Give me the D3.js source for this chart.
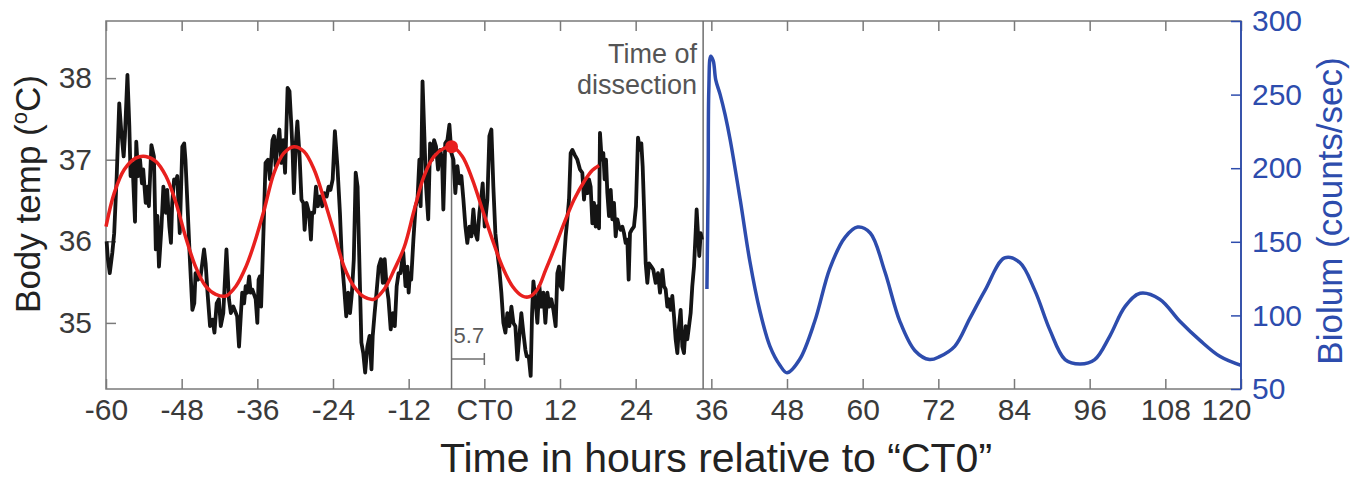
<!DOCTYPE html>
<html><head><meta charset="utf-8">
<script src="https://cdn.jsdelivr.net/npm/d3@7"></script>
<style>
body{margin:0;background:#fff}
svg{display:block}
text{font-family:"Liberation Sans",Arial,Helvetica,sans-serif}
</style>
</head><body>
<svg id="chart" width="1366" height="487"></svg>
<script>
// ---------------- data ----------------
const xTicks = [-60,-48,-36,-24,-12,0,12,24,36,48,60,72,84,96,108,120];
const xTickLabels = ["-60","-48","-36","-24","-12","CT0","12","24","36","48","60","72","84","96","108","120"];
const tempTicks = [35,36,37,38];
const biolumTicks = [50,100,150,200,250,300];

// body temperature [hour, °C]
const bodyTemp = [
[-59.9,36.0],[-59.7,35.78],[-59.4,35.61],[-59.0,35.86],[-58.7,36.1],[-58.3,36.8],[-57.9,37.69],[-57.6,37.37],[-57.2,37.04],[-57.0,37.29],
[-56.6,38.04],[-56.3,37.41],[-56.1,36.8],[-55.8,36.96],[-55.4,36.24],[-55.2,37.22],[-54.9,36.8],[-54.6,37.0],[-54.3,36.71],[-54.1,36.88],
[-53.7,36.47],[-53.4,36.67],[-53.2,36.43],[-52.8,37.18],[-52.4,37.04],[-52.1,35.9],[-51.85,36.31],[-51.6,35.69],[-51.2,36.18],[-50.9,36.67],
[-50.5,36.35],[-50.3,36.63],[-49.95,36.18],[-49.7,35.98],[-49.5,36.47],[-49.2,36.76],[-48.95,36.71],[-48.7,36.8],[-48.3,36.1],[-47.9,37.16],
[-47.6,37.2],[-47.4,37.0],[-47.0,36.31],[-46.7,35.78],[-46.3,35.16],[-46.0,35.24],[-45.8,35.61],[-45.4,35.53],[-45.0,35.57],[-44.45,35.9],
[-44.2,35.73],[-43.9,35.37],[-43.5,34.96],[-43.1,35.04],[-42.8,34.88],[-42.45,35.24],[-42.1,35.29],[-41.8,34.96],[-41.4,35.12],[-40.9,35.9],
[-40.5,35.29],[-40.2,35.12],[-39.8,35.2],[-39.4,35.12],[-39.2,35.08],[-38.9,34.71],[-38.6,35.12],[-38.4,35.37],[-38.1,35.24],[-37.85,35.45],
[-37.6,35.37],[-37.3,35.57],[-37.05,35.37],[-36.8,35.41],[-36.26,35.29],[-36.0,35.0],[-35.8,35.53],[-35.6,35.57],[-35.4,35.2],[-35.0,36.18],
[-34.7,36.96],[-34.3,37.0],[-34.0,36.76],[-33.6,37.24],[-33.35,37.29],[-33.1,36.92],[-32.8,37.2],[-32.5,37.37],[-32.2,36.96],[-31.9,37.24],
[-31.6,36.84],[-31.2,37.88],[-30.9,37.84],[-30.6,37.41],[-30.4,37.08],[-30.2,36.59],[-29.9,37.2],[-29.65,37.47],[-29.3,37.04],[-29.0,36.51],
[-28.7,36.47],[-28.5,36.14],[-28.2,36.47],[-27.8,36.35],[-27.5,36.02],[-27.3,36.35],[-27.0,36.35],[-26.7,36.67],[-26.4,36.43],[-26.05,36.55],
[-25.7,36.43],[-25.4,36.59],[-25.0,36.55],[-24.7,36.67],[-24.4,36.63],[-24.05,36.76],[-23.7,37.35],[-23.3,36.92],[-22.9,36.35],[-22.6,35.78],
[-22.25,35.45],[-21.9,35.08],[-21.6,35.37],[-21.3,35.12],[-21.0,35.37],[-20.7,35.78],[-20.4,36.84],[-20.1,36.67],[-19.8,35.69],[-19.5,34.76],
[-19.2,34.63],[-18.9,34.39],[-18.55,34.71],[-18.2,34.84],[-17.9,34.43],[-17.7,34.84],[-17.4,35.12],[-17.1,35.37],[-16.75,35.69],[-16.4,35.78],
[-16.1,35.49],[-15.8,35.78],[-15.5,35.45],[-15.2,35.29],[-14.85,34.92],[-14.5,35.12],[-14.2,34.96],[-13.9,35.45],[-13.6,35.61],[-13.3,35.61],
[-12.85,35.86],[-12.5,35.45],[-12.2,35.69],[-12.0,35.37],[-11.8,35.61],[-11.6,35.53],[-11.25,36.02],[-10.9,36.43],[-10.6,36.51],[-10.3,37.0],
[-10.1,36.43],[-9.8,37.96],[-9.56,37.41],[-9.24,36.67],[-8.9,36.27],[-8.6,37.2],[-8.3,37.0],[-7.97,37.24],[-7.66,37.16],[-7.34,36.88],
[-7.0,37.12],[-6.7,37.0],[-6.5,36.39],[-6.2,37.2],[-5.86,37.24],[-5.54,37.43],[-5.22,37.08],[-4.9,37.0],[-4.6,36.59],[-4.27,36.92],
[-3.96,36.71],[-3.64,36.8],[-3.32,36.51],[-3.0,36.18],[-2.7,35.98],[-2.37,36.18],[-2.05,36.06],[-1.74,36.39],[-1.42,36.1],[-1.1,36.02],
[-0.78,36.35],[-0.47,36.55],[-0.26,36.71],[0.06,36.18],[0.48,36.51],[0.8,37.29],[1.12,37.37],[1.43,36.67],[1.75,36.1],[2.07,35.86],
[2.39,35.65],[2.7,35.37],[3.02,35.0],[3.34,34.88],[3.65,35.12],[3.97,34.96],[4.29,35.2],[4.61,35.0],[4.92,34.96],[5.24,34.55],
[5.56,34.84],[5.87,35.12],[6.19,34.88],[6.51,34.67],[6.72,34.59],[7.04,34.59],[7.35,34.35],[7.57,35.12],[7.78,35.51],[8.09,35.29],
[8.41,35.0],[8.73,35.45],[9.05,35.2],[9.36,35.37],[9.68,35.0],[10.0,35.37],[10.31,35.2],[10.63,35.29],[10.95,35.16],[11.31,34.96],
[11.58,35.61],[11.84,35.69],[12.11,35.45],[12.37,35.41],[12.64,35.78],[12.9,36.06],[13.16,36.27],[13.43,36.51],[13.69,37.08],[13.96,37.12],
[14.33,37.06],[14.75,37.0],[15.17,36.88],[15.54,36.84],[15.81,36.51],[16.07,36.76],[16.34,36.59],[16.6,36.76],[16.86,36.67],[17.13,36.22],
[17.39,36.47],[17.66,36.18],[17.92,36.43],[18.19,36.16],[18.34,37.33],[18.61,37.0],[18.87,37.08],[19.08,36.76],[19.3,37.0],[19.51,36.59],
[19.77,36.31],[20.04,36.63],[20.3,36.27],[20.56,36.47],[20.83,36.06],[21.09,36.27],[21.36,36.18],[21.62,36.14],[21.89,36.18],[22.15,36.1],
[22.41,35.98],[22.68,36.02],[22.89,35.53],[23.1,36.1],[23.36,36.14],[23.73,36.18],[24.05,36.43],[24.37,37.27],[24.69,37.12],[24.9,37.2],
[25.11,36.92],[25.32,36.43],[25.59,35.73],[25.85,35.49],[26.11,35.73],[26.48,35.69],[26.8,35.65],[27.17,35.49],[27.54,35.61],[27.86,35.37],
[28.23,35.65],[28.49,35.45],[28.76,35.41],[29.02,35.2],[29.28,35.29],[29.55,35.16],[29.81,35.33],[30.08,35.08],[30.34,34.8],[30.61,34.63],
[30.87,34.96],[31.13,35.16],[31.4,34.71],[31.66,34.63],[31.93,34.96],[32.19,34.8],[32.46,34.96],[32.72,35.12],[32.98,35.45],[33.25,35.69],
[33.51,36.1],[33.67,36.39],[33.88,36.1],[34.09,35.82],[34.31,36.1],[34.52,36.02]
];

// fitted rhythm [hour, °C]
const tempFit = [
[-60,36.18],[-58.7,36.59],[-57.1,36.88],[-55.3,37.02],[-53.7,37.04],[-52.1,36.98],[-50.5,36.80],[-48.9,36.47],[-47.4,36.06],[-45.8,35.69],
[-44.2,35.45],[-42.6,35.35],[-41.0,35.33],[-39.4,35.45],[-37.8,35.69],[-36.5,35.97],[-34.9,36.39],[-33.35,36.84],[-31.8,37.08],[-30.2,37.16],
[-28.6,37.10],[-27.0,36.88],[-25.4,36.51],[-23.8,36.10],[-22.25,35.69],[-20.7,35.45],[-19.1,35.32],[-17.5,35.29],[-15.9,35.41],[-14.3,35.65],
[-12.7,35.93],[-11.1,36.39],[-9.56,36.80],[-7.97,37.04],[-6.4,37.14],[-5.1,37.16],[-3.48,37.04],[-1.9,36.76],[-0.31,36.39],[1.28,36.02],
[2.86,35.69],[4.45,35.45],[6.03,35.33],[7.09,35.32],[8.41,35.41],[9.73,35.65],[11.05,35.90],[12.64,36.22],[14.22,36.51],[15.81,36.73],
[17.13,36.87],[18.19,36.93]
];

// bioluminescence [hour, counts/sec]
const biolum = [
[35.3,118],[35.5,192],[35.6,253],[35.9,276],[36.3,273],[36.7,260],[37.4,250],[38.2,236],[39.0,219],[40.6,178],
[42.1,137],[43.7,103],[45.3,79],[46.9,66],[48.0,61],[50.0,70],[52.4,96],[54.8,132],[57.2,153],[59.2,160],
[61.2,156],[63.5,130],[65.9,96],[68.3,76],[70.6,70],[72.2,72],[74.6,79],[77.0,98],[79.4,117],[82.5,139],
[84.9,136],[87.3,117],[89.7,90],[92.1,70],[94.5,67],[96.8,70],[99.2,86],[101.6,106],[104.0,115],[107.1,111],
[110.3,96],[113.5,83],[116.7,72],[120,66]
];

const peakHour = -5.2, peakTemp = 37.16, phaseText = "5.7";
const dissectionHour = 34.7;

// ---------------- layout ----------------
const L = 106, R = 1241, T = 21, B = 389;
const blue = "#2d4cad", red = "#e8201e", gray = "#7a7a7a", labelCol = "#3a3a3a";

const x = d3.scaleLinear().domain([-60,120]).range([L,R]);
const yT = d3.scaleLinear().domain([34.19,38.70]).range([B,T]);
const yB = d3.scaleLinear().domain([50,300]).range([B,T]);

const svg = d3.select("#chart");

// frame
svg.append("rect").attr("x",L).attr("y",T).attr("width",R-L).attr("height",B-T)
  .attr("fill","none").attr("stroke",gray).attr("stroke-width",1.5);

function styleAxis(g, color, fs){
  g.select(".domain").remove();
  g.selectAll(".tick line").attr("stroke",color).attr("stroke-width",1.5);
  g.selectAll(".tick text").attr("fill",color===gray?labelCol:color).attr("font-size",fs)
    .attr("font-family","'Liberation Sans',Arial,sans-serif");
}

// bottom axis
const bx = svg.append("g").attr("transform",`translate(0,${B})`)
  .call(d3.axisBottom(x).tickValues(xTicks).tickFormat((d,i)=>xTickLabels[i]).tickSize(-10).tickPadding(10))
  .call(g=>styleAxis(g,gray,30));
// last label kept just left of the right-axis "50"
bx.selectAll(".tick text").filter(d=>d===xTicks[xTicks.length-1]).attr("text-anchor","end").attr("x",10);
// top ticks
svg.append("g").attr("transform",`translate(0,${T})`)
  .call(d3.axisTop(x).tickValues(xTicks).tickFormat("").tickSize(-10))
  .call(g=>styleAxis(g,gray,30));
// left axis
svg.append("g").attr("transform",`translate(${L},0)`)
  .call(d3.axisLeft(yT).tickValues(tempTicks).tickFormat(d3.format("d")).tickSize(-10).tickPadding(14))
  .call(g=>styleAxis(g,gray,30));
// right axis
svg.append("g").attr("transform",`translate(${R},0)`)
  .call(d3.axisRight(yB).tickValues(biolumTicks).tickFormat(d3.format("d")).tickSize(-10).tickPadding(11))
  .call(g=>styleAxis(g,blue,30));
svg.append("line").attr("x1",R).attr("x2",R).attr("y1",T).attr("y2",B).attr("stroke",blue).attr("stroke-width",1.8);

// dissection line
svg.append("line").attr("x1",x(dissectionHour)).attr("x2",x(dissectionHour)).attr("y1",T).attr("y2",B)
  .attr("stroke","#6e6e6e").attr("stroke-width",1.5);

// peak vertical line & bracket
svg.append("line").attr("x1",x(peakHour)).attr("x2",x(peakHour)).attr("y1",yT(peakTemp)).attr("y2",B)
  .attr("stroke","#6e6e6e").attr("stroke-width",1.5);
svg.append("line").attr("x1",x(peakHour)).attr("x2",x(0)).attr("y1",359).attr("y2",359)
  .attr("stroke","#6e6e6e").attr("stroke-width",1.5);
svg.append("line").attr("x1",x(0)).attr("x2",x(0)).attr("y1",353).attr("y2",365)
  .attr("stroke","#6e6e6e").attr("stroke-width",1.5);
svg.append("text").attr("x",x(peakHour)+2).attr("y",343).attr("font-size",22).attr("fill","#5a5a5a").text(phaseText);

// lines
const lineT = d3.line().x(d=>x(d[0])).y(d=>yT(d[1]));
svg.append("path").datum(bodyTemp).attr("d",lineT).attr("fill","none").attr("stroke","#141414")
  .attr("stroke-width",3.8).attr("stroke-linejoin","round");
svg.append("path").datum(tempFit).attr("d",lineT.curve(d3.curveCatmullRom)).attr("fill","none").attr("stroke",red)
  .attr("stroke-width",3.5);
svg.append("circle").attr("cx",x(peakHour)).attr("cy",yT(peakTemp)).attr("r",6.5).attr("fill",red);

const lineB = d3.line().x(d=>x(d[0])).y(d=>yB(d[1])).curve(d3.curveCatmullRom);
svg.append("path").datum(biolum).attr("d",lineB).attr("fill","none").attr("stroke",blue)
  .attr("stroke-width",3.5).attr("stroke-linejoin","round");

// dissection label
const dl = svg.append("text").attr("text-anchor","end").attr("font-size",27).attr("fill","#555");
dl.append("tspan").attr("x",x(dissectionHour)-6).attr("y",63).text("Time of");
dl.append("tspan").attr("x",x(dissectionHour)-6).attr("y",94).text("dissection");

// axis titles
const yl = svg.append("text").attr("transform","translate(40,194) rotate(-90)").attr("text-anchor","middle")
  .attr("font-size",35).attr("fill","#222");
yl.append("tspan").text("Body temp (");
yl.append("tspan").attr("font-size",22).attr("dy",-13).text("o");
yl.append("tspan").attr("dy",13).text("C)");

svg.append("text").attr("transform","translate(1342,211) rotate(-90)").attr("text-anchor","middle")
  .attr("font-size",35).attr("fill",blue).text("Biolum (counts/sec)");

svg.append("text").attr("x",716).attr("y",472).attr("text-anchor","middle").attr("font-size",41)
  .attr("fill","#222").text("Time in hours relative to \u201CCT0\u201D");
</script>
</body></html>
